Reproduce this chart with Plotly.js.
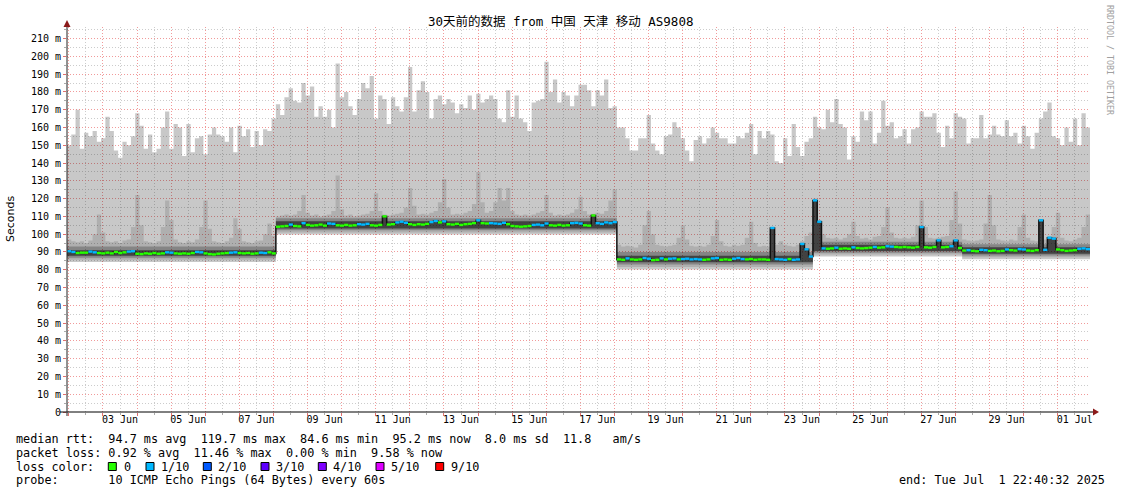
<!DOCTYPE html>
<html><head><meta charset="utf-8">
<script src="https://cdn.plot.ly/plotly-3.0.1.min.js"></script>
<style>body{margin:0;background:#fff}#chart{width:1121px;height:494px}</style>
</head><body><div id="chart"></div>
<script>
// ---------------- data ----------------
const startTime = Date.UTC(2025,5,1,22,40,32);
const endTime   = Date.UTC(2025,6,1,22,40,32);
const blockHours = 3;

// highest ping per 3h block (ms)
const maxPing = [
 150,156,170,148,157,155,158,152,154,166,158,147,143,152,150,155,168,161,148,156,
 146,148,160,169,148,162,160,144,162,146,154,155,145,156,160,156,155,152,160,146,
 161,155,159,149,158,150,159,158,165,
 173,167,177,182,175,174,185,178,183,166,172,166,170,160,196,177,180,172,167,176,
 185,182,189,165,178,176,162,177,172,169,177,194,169,181,186,180,165,176,178,173,
 176,174,168,173,171,178,170,179,174,176,178,176,165,163,181,166,178,165,163,158,
 174,175,176,197,180,187,174,180,178,172,178,184,184,181,172,181,178,187,171,172,
 160,160,154,147,147,154,154,167,151,147,145,155,156,163,160,154,147,141,153,155,
 151,154,160,157,154,154,151,151,155,154,157,162,145,158,154,158,156,141,140,154,
 144,162,149,144,152,154,
 166,160,159,170,163,176,162,160,142,155,152,169,164,169,151,157,175,161,163,154,
 155,159,151,159,160,169,166,166,168,157,149,161,154,168,166,165,151,154,154,167,
 154,156,161,156,155,164,155,157,151,161,155,148,157,165,169,174,155,154,150,160,
 152,165,150,168,160
];
// upper light smoke edge (2nd highest ping) per block
const upperSmoke = [
 97,96,95.5,96,95,96.5,100,111,101,96,95.5,96,95,96.5,97,104,122,105,96,95.5,
 95,96,104,119,108,97,95.5,95,96,95.5,97,104,119,103,96,95.5,95,96,98,109,
 103,96,95.5,95,96,96.5,100,106,99,
 110,110.5,111,110.5,111,113,122,112,110.5,111,110,110.5,111,113,133,114,110.5,111,110,110.5,
 111,111.5,113,123,113,111,110.5,111,111.5,112,115,126,116,111,111.5,111,112,113,118,131,
 115,111,111.5,111,112,113,117,135,118,112,113,118,126,119,126,113,111,110.5,111,110.5,
 111,112,113,122,112,110.5,111,110.5,111,112,114,121,113,111,111.5,112,111.5,113,119,125,
 94,93,93.5,93,92.5,94,105,113,100,94,93.5,93,93.5,94,98,105,97,93.5,93,93.5,
 93,94,99,108,96,93.5,93,94,93.5,94,98,107,95,93,93.5,93,104,94,96,94,
 93.5,93,94,96,99,101,
 120,108,100,98,97.5,98,97,98,100,107,99,97.5,98,97,98.5,99,104,115,101,98,
 97.5,98,97.5,98.5,105,119,104,98,97.5,98,98.5,99,108,124,106,97,96.5,96,96.5,97,
 106,122,105,97,96.5,96,97,96.5,104,111,98,96.5,96,108.5,97,99,104,112,98,96.5,
 96,97,98,104,111
];
// median rtt per block (ms)
const medianRtt = [
 90.4,90.0,89.4,89.6,89.6,90.2,89.8,89.4,89.2,89.6,89.2,90.0,89.4,89.8,90.2,90.4,89.0,88.8,89.2,89.0,
 89.4,89.0,89.2,89.8,89.6,89.2,89.0,89.2,89.0,89.4,90.0,89.8,89.2,88.8,88.6,89.0,89.2,89.4,89.6,89.8,
 89.4,89.2,89.4,89.0,89.2,89.6,89.4,89.8,89.2,
 104.2,104.4,104.6,105.4,104.6,104.4,106.2,105.2,104.8,105.0,105.4,104.8,106.0,105.8,105.0,104.8,105.2,104.8,105.0,105.6,
 105.4,105.8,105.0,104.8,105.2,110.0,105.4,105.6,106.6,107.0,106.4,105.6,105.2,105.6,105.4,105.8,106.8,107.4,106.6,107.2,
 105.6,105.4,105.8,105.2,105.6,105.8,106.2,107.8,106.2,106.0,106.2,106.0,105.8,106.4,105.6,104.6,104.4,104.2,104.4,104.6,
 105.2,105.4,105.0,106.0,105.0,104.8,105.2,104.8,105.0,106.2,106.4,106.0,105.0,104.8,110.5,106.2,105.8,106.6,106.2,106.8,
 85.8,85.6,86.4,85.8,85.6,85.8,86.6,86.2,85.4,85.6,86.4,85.8,86.2,86.4,85.8,86.0,86.2,85.8,86.0,85.8,
 85.6,85.8,86.4,86.6,85.6,85.8,85.6,86.2,86.6,86.0,85.8,86.0,85.6,85.8,85.8,85.6,103.5,86.0,85.8,85.6,
 86.0,85.6,85.8,94.5,91.5,87.4,
 119,107,92.0,91.8,92.0,92.4,91.8,92.0,91.8,92.6,92.2,92.0,92.2,92.4,92.8,92.4,92.6,93.2,93.0,92.8,
 92.6,92.8,92.6,92.4,92.8,104,92.6,92.4,92.8,96.5,92.6,92.8,93.2,96.5,92.2,90.8,91.0,90.6,90.4,91.2,
 91.0,90.6,90.8,90.4,90.6,91.4,91.0,90.8,91.6,91.4,90.8,90.6,91.0,107.8,91.2,98,97.5,91.4,91.0,90.6,
 90.8,91.0,91.8,92.0,91.6
];
// packet loss per block (lost pings out of 10)
const lossTenths = [
 1,1,0,0,0,1,1,0,0,0,0,0,0,0,1,1,0,0,0,0,0,0,0,1,1,0,0,0,0,0,1,1,0,0,0,0,0,0,1,1,0,0,0,0,0,1,1,0,0,
 0,0,0,1,0,0,1,0,0,0,0,0,1,1,0,0,0,0,0,1,1,1,0,0,0,0,0,0,1,1,1,0,0,0,0,0,1,1,0,1,
 0,0,0,0,0,0,0,1,0,0,1,1,1,1,0,0,0,0,0,0,1,1,1,1,0,0,0,0,0,1,1,1,0,0,0,1,1,1,1,1,
 0,0,1,0,0,0,1,1,0,0,1,0,1,1,0,1,1,1,1,1,0,0,1,1,0,0,0,1,1,1,0,0,0,0,0,0,1,1,1,1,0,1,1,1,1,1,
 1,1,1,0,0,1,0,0,0,1,0,0,0,0,1,0,0,1,1,0,0,0,0,0,0,1,0,0,0,1,0,0,1,1,0,0,1,0,0,1,
 1,0,0,0,0,1,0,0,1,1,0,0,0,1,1,1,1,0,0,0,0,0,1,1,1
];
// smoke layer edges, constant within each baseline period
const segmentStartBlock = [0, 49, 129, 175, 210];
const minPing    = [84.4, 99.8, 80.2, 87.5, 85.9];
const smokeLow2  = [85.6, 101.0, 81.6, 88.6, 87.0];
const smokeLow3  = [86.8, 102.2, 83.0, 89.6, 88.0];
const smokeLow4  = [87.8, 103.2, 84.2, 90.6, 89.0];
const smokeHigh4 = [91.0, 107.2, 87.8, 94.0, 92.6];
const smokeHigh3 = [93.0, 109.0, 90.0, 95.8, 94.4];

const yTickValues = [0,10,20,30,40,50,60,70,80,90,100,110,120,130,140,150,160,170,180,190,200,210];
const yTickText = ['0','10 m','20 m','30 m','40 m','50 m','60 m','70 m','80 m','90 m','100 m','110 m','120 m','130 m','140 m','150 m','160 m','170 m','180 m','190 m','200 m','210 m'];
const xLabelDates = ['2025-06-03','2025-06-05','2025-06-07','2025-06-09','2025-06-11','2025-06-13','2025-06-15','2025-06-17','2025-06-19','2025-06-21','2025-06-23','2025-06-25','2025-06-27','2025-06-29','2025-07-01'];
const xLabelText = ['03 Jun','05 Jun','07 Jun','09 Jun','11 Jun','13 Jun','15 Jun','17 Jun','19 Jun','21 Jun','23 Jun','25 Jun','27 Jun','29 Jun','01 Jul'];
const lossLegendTenths = [0,1,2,3,4,5,9];
const lossLegendText = ['0','1/10','2/10','3/10','4/10','5/10','9/10'];
const lossLegendColors = ['#26ff00','#00b8ff','#0059ff','#5e00ff','#7e00ff','#dd00ff','#ff0000'];
const titleText = '30天前的数据 from 中国 天津 移动 AS9808';
const statsLines = [
 'median rtt:  94.7 ms avg  119.7 ms max  84.6 ms min  95.2 ms now  8.0 ms sd  11.8   am/s',
 'packet loss: 0.92 % avg  11.46 % max  0.00 % min  9.58 % now',
 'loss color:',
 'probe:       10 ICMP Echo Pings (64 Bytes) every 60s'
];
const endText = 'end: Tue Jul  1 22:40:32 2025';

// ---------------- build ----------------
const nBlocks = maxPing.length;
const blockTimes = Array.from({length:nBlocks+1}, (_,i)=> startTime + i*blockHours*3600000);
function withEnd(a){ return a.concat([a[a.length-1]]); }
function perBlock(levels){
  return Array.from({length:nBlocks}, (_,i)=>{ let s=0; for(let k=0;k<segmentStartBlock.length;k++) if(i>=segmentStartBlock[k]) s=k; return levels[s]; });
}
function band(low, high, color){
  return [
    {x:blockTimes, y:withEnd(low), mode:'lines', line:{width:0, shape:'hv'}, hoverinfo:'skip', showlegend:false},
    {x:blockTimes, y:withEnd(high), mode:'lines', line:{width:0, shape:'hv'}, fill:'tonexty', fillcolor:color, hoverinfo:'skip', showlegend:false}
  ];
}
// inner smoke reaches at least up to the median (median spikes are drawn dark)
const high3 = perBlock(smokeHigh3).map((v,i)=>Math.max(v, medianRtt[i]));
const high4 = perBlock(smokeHigh4).map((v,i)=>Math.max(v, medianRtt[i]));
const traces = [];
traces.push(...band(perBlock(minPing), maxPing, 'rgba(0,0,0,0.215)'));
traces.push(...band(perBlock(smokeLow2), upperSmoke, 'rgba(0,0,0,0.12)'));
traces.push(...band(perBlock(smokeLow3), high3, 'rgba(0,0,0,0.24)'));
traces.push(...band(perBlock(smokeLow4), high4, 'rgba(0,0,0,0.5)'));
traces.push({x:blockTimes, y:withEnd(medianRtt), mode:'lines', line:{color:'#111', width:1.5, shape:'hv'}, hoverinfo:'skip', showlegend:false});
lossLegendTenths.forEach((t,ci)=>{
  const xs=[], ys=[];
  for(let i=0;i<nBlocks;i++){ if(lossTenths[i]===t){ xs.push(blockTimes[i], blockTimes[i+1], blockTimes[i+1]); ys.push(medianRtt[i], medianRtt[i], null); } }
  if(xs.length) traces.push({x:xs, y:ys, mode:'lines', line:{color:lossLegendColors[ci], width:2.4}, connectgaps:false, hoverinfo:'skip', showlegend:false});
});
traces.push({x:[startTime,endTime], y:[null,null], xaxis:'x2', yaxis:'y', mode:'lines', hoverinfo:'skip', showlegend:false});

// layout helpers (pixel -> paper)
const L=67, R=1090, T=27, B=412;
const px = X => (X-L)/(R-L);
const py = Y => (B-Y)/(B-T);
const mono = 'DejaVu Sans Mono, monospace';
const nb = s => s.replace(/ /g,'\u00a0');

const annotations = [
  {text:titleText, x:px(560.5), y:py(21), xref:'paper', yref:'paper', xanchor:'center', yanchor:'middle', showarrow:false, font:{family:'DejaVu Sans Mono, Noto Sans CJK SC, monospace', size:12.5, color:'#000'}},
  {text:'Seconds', x:px(10), y:py(219), xref:'paper', yref:'paper', xanchor:'center', yanchor:'middle', textangle:-90, showarrow:false, font:{family:'DejaVu Sans, sans-serif', size:11, color:'#000'}},
  {text:'RRDTOOL / TOBI OETIKER', x:px(1110), y:py(60), xref:'paper', yref:'paper', xanchor:'center', yanchor:'middle', textangle:90, showarrow:false, font:{family:mono, size:8.3, color:'#a0a0a0'}},
  {text:nb(endText), x:px(1106), y:py(480.5), xref:'paper', yref:'paper', xanchor:'right', yanchor:'middle', showarrow:false, borderpad:0, font:{family:mono, size:11.8, color:'#000'}}
];
const lineY = [438.5, 452.5, 466.5, 480.5];
statsLines.forEach((s,i)=> annotations.push({text:nb(s), x:px(15), y:py(lineY[i]), xref:'paper', yref:'paper', xanchor:'left', yanchor:'middle', showarrow:false, borderpad:0, font:{family:mono, size:11.8, color:'#000'}}));
const legendBoxX = [108.3, 146, 203.3, 261, 318.3, 376, 435.7];
const legendTextX = [123, 160, 217, 275, 332.3, 389.7, 449.7];
const shapes = [
  {type:'line', xref:'paper', yref:'paper', x0:px(60), x1:px(1094), y0:0, y1:0, line:{color:'#000', width:1}},
  {type:'line', xref:'paper', yref:'paper', x0:0, x1:0, y0:py(416), y1:py(25), line:{color:'#222', width:1}},
  {type:'path', xref:'paper', yref:'paper', path:`M ${px(63.5)},${py(27)} L ${px(67)},${py(20)} L ${px(70.5)},${py(27)} Z`, fillcolor:'#8b1a1a', line:{width:0}},
  {type:'path', xref:'paper', yref:'paper', path:`M ${px(1093)},${py(408.5)} L ${px(1099)},${py(412)} L ${px(1093)},${py(415.5)} Z`, fillcolor:'#8b1a1a', line:{width:0}}
];
lossLegendColors.forEach((c,i)=>{
  shapes.push({type:'rect', xref:'paper', yref:'paper', x0:px(legendBoxX[i]), x1:px(legendBoxX[i]+8), y0:py(470.5), y1:py(462.5), fillcolor:c, line:{color:'#000', width:1}});
  annotations.push({text:lossLegendText[i], x:px(legendTextX[i]), y:py(466.5), xref:'paper', yref:'paper', xanchor:'left', yanchor:'middle', showarrow:false, borderpad:0, font:{family:mono, size:11.8, color:'#000'}});
});

const gridRed = '#f19a9a', gridGray = '#cccccc', dots = '1px,2px';
const layout = {
  width:1121, height:494,
  margin:{l:L, r:1121-R, t:T, b:494-B, pad:0},
  paper_bgcolor:'#fff', plot_bgcolor:'#fff', showlegend:false,
  font:{family:mono, size:10, color:'#000'},
  xaxis:{type:'date', range:[startTime,endTime], autorange:false, tickmode:'linear', tick0:'2025-06-02', dtick:86400000,
    showticklabels:false, ticks:'outside', ticklen:3, tickcolor:'#e07070', showgrid:true, gridcolor:gridRed, griddash:dots, gridwidth:1,
    minor:{dtick:43200000, tick0:'2025-06-02', showgrid:true, gridcolor:gridGray, griddash:dots, ticks:'outside', ticklen:2, tickcolor:'#aaaaaa'},
    showline:false, zeroline:false, fixedrange:true},
  xaxis2:{type:'date', overlaying:'x', side:'bottom', range:[startTime,endTime], autorange:false, tickmode:'array',
    tickvals:xLabelDates.map(d=>d+' 12:00'), ticktext:xLabelText, showgrid:false, ticks:'', showline:false, zeroline:false, tickfont:{family:mono, size:10, color:'#000'}},
  yaxis:{range:[0,216.5], autorange:false, tickmode:'array', tickvals:yTickValues, ticktext:yTickText, ticks:'outside', ticklen:3, tickcolor:'#e07070',
    showgrid:true, gridcolor:gridRed, griddash:dots, gridwidth:1,
    minor:{tick0:0, dtick:5, showgrid:true, gridcolor:gridGray, griddash:dots, ticks:'outside', ticklen:2, tickcolor:'#aaaaaa'},
    zeroline:false, showline:false, tickfont:{family:mono, size:10, color:'#000'}, fixedrange:true},
  shapes:shapes, annotations:annotations
};
Plotly.newPlot('chart', traces, layout, {staticPlot:true, displayModeBar:false});
</script>
</body></html>
